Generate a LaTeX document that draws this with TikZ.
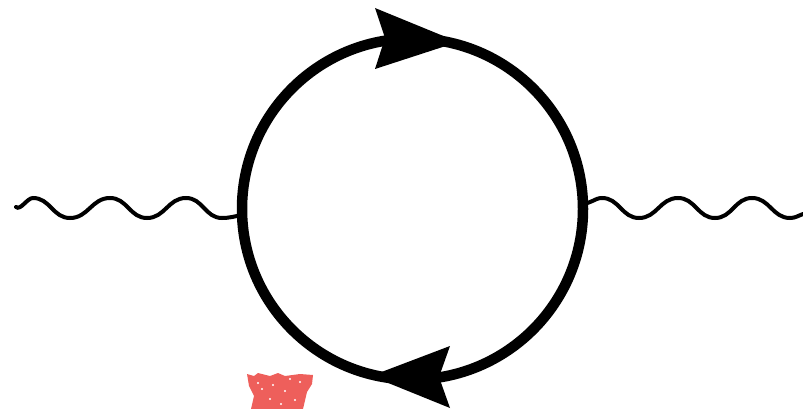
\documentclass[tikz,border=0pt]{standalone}
\definecolor{blobred}{HTML}{EE5F5B}
\tikzset{
  loopline/.style={circle,draw=black,line width=10.5pt,minimum size=341pt,inner sep=0pt,outer sep=0pt},
  wavy/.style={draw=black,line width=4pt,line cap=round},
  headfill/.style={fill=black,draw=none},
  hump/.style={out=0,in=180,looseness=1.05},
  speck/.style={fill=white,draw=none}
}
\begin{document}
\begin{tikzpicture}[x=1pt,y=-1pt]
\useasboundingbox (0,0) rectangle (803,409);
\node[loopline] (loop) at (412.5,209) {};
% left wave
\coordinate (ls) at (16,207);
\coordinate (lc1) at (33,198);
\coordinate (lt1) at (70,218);
\coordinate (lc2) at (110,198);
\coordinate (lt2) at (147,218);
\coordinate (lc3) at (186,198);
\coordinate (lt3) at (222,218);
\draw[wavy] (ls) to[out=-40,in=180,looseness=0.8] (lc1) to[hump] (lt1) to[hump] (lc2) to[hump] (lt2) to[hump] (lc3) to[hump] (lt3) to[out=0,in=190] (loop.west |- 0,215);
% right wave
\coordinate (rc1) at (602,198);
\coordinate (rt1) at (639,218);
\coordinate (rc2) at (678,198);
\coordinate (rt2) at (715,218);
\coordinate (rc3) at (752,198);
\coordinate (rt3) at (790,218);
\coordinate (re) at (803,214);
\draw[wavy] (loop.east |- 0,203) to[out=-10,in=180] (rc1) to[hump] (rt1) to[hump] (rc2) to[hump] (rt2) to[hump] (rc3) to[hump] (rt3) to[out=0,in=200] (re);
% arrowheads
\fill[headfill] (375,8) -- (458,42) -- (375,69) -- (385,38) -- cycle;
\fill[headfill] (450,346) -- (371,376) -- (450,408) -- (439,377) -- cycle;
% red blob
\fill[blobred] (247,374) -- (254,376) -- (258,373) -- (270,376) -- (278,373) -- (285,376) -- (300,374) -- (313,375) -- (312,384) -- (307,392) -- (303,409) -- (251,409) -- (254,396) -- (249,386) -- cycle;
\foreach \sx/\sy in {258/383,262/389,285/391,290/379,273/385,300/382,270/399,295/400,281/404}
  \fill[speck] (\sx,\sy) circle (1.1pt);
\end{tikzpicture}
\end{document}
